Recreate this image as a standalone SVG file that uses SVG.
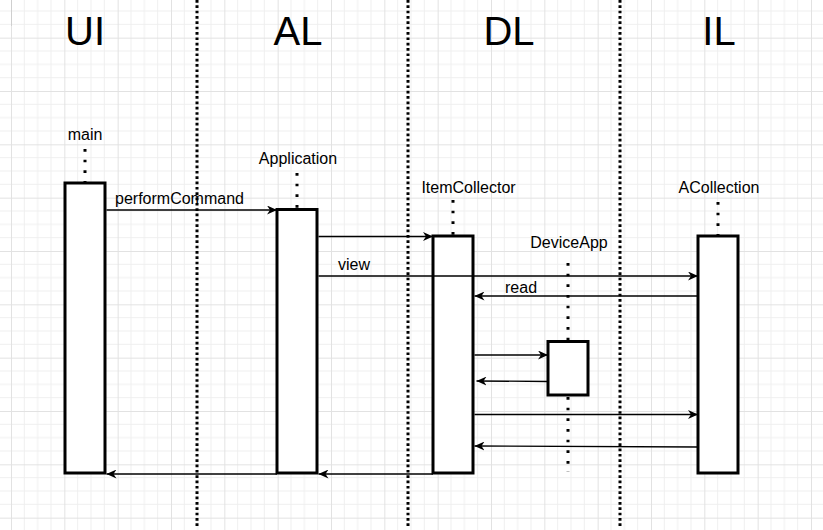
<svg xmlns="http://www.w3.org/2000/svg" width="823" height="530" viewBox="0 0 823 530">
<style>
.t{font-family:"Liberation Sans",Arial,sans-serif;fill:#000}
.title{font-size:40px;text-anchor:middle}
.lbl{font-size:16px;text-anchor:middle}
.msg{font-size:16px}
.box{fill:#fff;stroke:#000;stroke-width:3}
.life{fill:none;stroke:#000;stroke-width:3;stroke-dasharray:2.67 8}
.sep{fill:none;stroke:#000;stroke-width:3;stroke-dasharray:2.67 2.67}
.arr{fill:none;stroke:#000;stroke-width:1.3;marker-end:url(#ah)}
</style>
<defs>
<pattern id="grid" patternUnits="userSpaceOnUse" x="11" y="37.667" width="53.333" height="53.333">
<path d="M13.333 0V53.333M26.667 0V53.333M40 0V53.333M0 13.333H53.333M0 26.667H53.333M0 40H53.333" stroke="#efefef" stroke-width="1" fill="none"/>
<path d="M0.5 0V53.333M0 0.5H53.333" stroke="#e2e2e2" stroke-width="1" fill="none"/>
</pattern>
<marker id="ah" viewBox="0 0 10 9" refX="10" refY="4.5" markerWidth="10" markerHeight="9" markerUnits="userSpaceOnUse" orient="auto">
<path d="M0,0 L10,4.5 L0,9 L3,4.5 Z" fill="#000"/>
</marker>
</defs>
<rect width="823" height="530" fill="#fff"/>
<rect width="823" height="530" fill="url(#grid)"/>
<line x1="11.5" y1="0" x2="11.5" y2="26" stroke="#cfcfcf" stroke-width="1"/>

<g id="separators">
<line class="sep" x1="197" y1="0" x2="197" y2="527"/>
<line class="sep" x1="408" y1="0" x2="408" y2="527"/>
<line class="sep" x1="620" y1="0" x2="620" y2="527"/>
</g>

<g id="titles">
<text class="t title" x="85" y="45">UI</text>
<text class="t title" x="298" y="45">AL</text>
<text class="t title" x="509" y="45">DL</text>
<text class="t title" x="719" y="45">IL</text>
</g>

<g id="main">
<text class="t lbl" x="85" y="140">main</text>
<line class="life" x1="85" y1="149" x2="85" y2="183"/>
<rect class="box" x="65" y="183" width="40" height="290"/>
</g>

<g id="application">
<text class="t lbl" x="298" y="164">Application</text>
<line class="life" x1="297" y1="173" x2="297" y2="209"/>
<rect class="box" x="277" y="209.5" width="40" height="263.5"/>
</g>

<g id="itemcollector">
<text class="t lbl" x="468.5" y="193">ItemCollector</text>
<line class="life" x1="453" y1="200" x2="453" y2="236"/>
<rect class="box" x="433" y="236" width="40" height="237"/>
</g>

<g id="acollection">
<text class="t lbl" x="719" y="193">ACollection</text>
<line class="life" x1="718" y1="202" x2="718" y2="236"/>
<rect class="box" x="698" y="236" width="40" height="237"/>
</g>

<g id="deviceapp">
<text class="t lbl" x="569" y="248">DeviceApp</text>
<line class="life" x1="568" y1="263" x2="568" y2="341"/>
<line class="life" x1="568" y1="397" x2="568" y2="472"/>
<rect class="box" x="548" y="341.5" width="40" height="53.5"/>
</g>

<g id="connectors">
<path class="arr" d="M106.5 210H277"/>
<text class="t msg" x="115" y="204">performCommand</text>
<path class="arr" d="M318.5 236.5H433"/>
<path class="arr" d="M318.5 276H698"/>
<text class="t msg" x="338" y="270">view</text>
<path class="arr" d="M698 296H474.5"/>
<text class="t msg" x="505" y="293">read</text>
<path class="arr" d="M474.5 355H548"/>
<path class="arr" d="M548 381.5L476.5 381"/>
<path class="arr" d="M474.5 414.5H698"/>
<path class="arr" d="M698 447L474.5 446"/>
<path class="arr" d="M433 474H318.5"/>
<path class="arr" d="M277 474H106.5"/>
</g>
</svg>
